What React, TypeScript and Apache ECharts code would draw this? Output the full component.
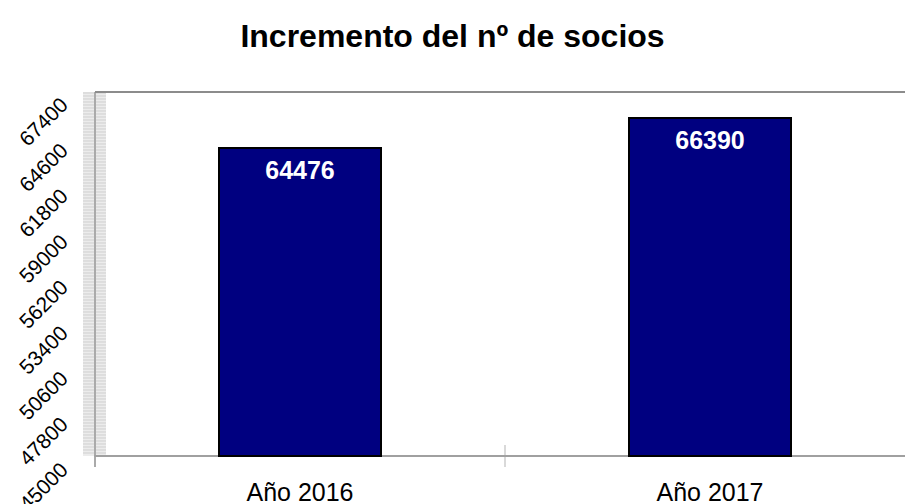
import React, { useEffect, useRef } from "react";
import * as echarts from "echarts";

const categories = ["Año 2016", "Año 2017"];
const socios = [64476, 66390];
const tickMin = 45000;
const tickMax = 67400;
const tickStep = 2800;

export default function App() {
  const ref = useRef<HTMLDivElement>(null);
  useEffect(() => {
    if (!ref.current) return;
    const chart = echarts.init(ref.current, null, { renderer: "svg" });
    const wallTop = 92;
    const wallBottom = 456;
    const stripes: any[] = [];
    for (let y = wallTop + 1; y < wallBottom; y += 3) {
      stripes.push({
        type: "line",
        silent: true,
        shape: { x1: 83, y1: y, x2: 106, y2: y },
        style: { stroke: "#cfcfcf", lineWidth: 1 },
      });
    }
    chart.setOption({
      animation: false,
      backgroundColor: "#ffffff",
      title: {
        text: "Incremento del nº de socios",
        left: "center",
        top: 15,
        textStyle: {
          fontFamily: "Liberation Sans",
          fontWeight: "bold",
          fontSize: 32,
          color: "#000000",
        },
      },
      graphic: [
        {
          type: "rect",
          silent: true,
          z: 0,
          shape: { x: 83, y: wallTop, width: 23, height: wallBottom - wallTop },
          style: { fill: "#ececec" },
        },
        ...stripes,
        {
          type: "line",
          silent: true,
          shape: { x1: 95, y1: wallTop, x2: 95, y2: 467 },
          style: { stroke: "#aaaaaa", lineWidth: 2 },
        },
        {
          type: "line",
          silent: true,
          shape: { x1: 95, y1: wallTop, x2: 905, y2: wallTop },
          style: { stroke: "#8c8c8c", lineWidth: 2 },
        },
        {
          type: "line",
          silent: true,
          shape: { x1: 505, y1: 445, x2: 505, y2: 467 },
          style: { stroke: "#cccccc", lineWidth: 1.5 },
        },
      ],
      grid: [
        {
          left: 95,
          width: 820,
          top: 92,
          bottom: 48,
          containLabel: false,
          outerBoundsMode: "none",
        },
        {
          left: 70,
          width: 1,
          top: 101,
          bottom: 38,
          containLabel: false,
          outerBoundsMode: "none",
        },
      ],
      xAxis: [
        {
          type: "category",
          gridIndex: 0,
          data: categories,
          axisLine: { lineStyle: { color: "#a0a0a0", width: 2 } },
          axisTick: { show: false },
          axisLabel: {
            margin: 23,
            fontFamily: "Liberation Sans",
            fontSize: 25,
            color: "#000000",
          },
        },
        {
          type: "category",
          gridIndex: 1,
          data: ["x"],
          show: false,
        },
      ],
      yAxis: [
        {
          type: "value",
          gridIndex: 0,
          min: 44760,
          max: 67990,
          show: false,
          splitLine: { show: false },
        },
        {
          type: "value",
          gridIndex: 1,
          min: tickMin,
          max: tickMax,
          interval: tickStep,
          axisLine: { show: false },
          axisTick: { show: false },
          splitLine: { show: false },
          axisLabel: {
            rotate: 45,
            margin: 6,
            fontFamily: "Liberation Sans",
            fontSize: 21,
            color: "#000000",
            showMinLabel: true,
            showMaxLabel: true,
            formatter: (v: number) => String(v),
          },
        },
      ],
      series: [
        {
          type: "bar",
          xAxisIndex: 0,
          yAxisIndex: 0,
          data: socios,
          barWidth: 164,
          itemStyle: { color: "#000080", borderColor: "#000000", borderWidth: 2 },
          label: {
            show: true,
            position: "insideTop",
            distance: 10,
            fontFamily: "Liberation Sans",
            fontWeight: "bold",
            fontSize: 25,
            color: "#ffffff",
          },
        },
      ],
    });
    return () => chart.dispose();
  }, []);
  return (
    <div
      ref={ref}
      style={{ position: "fixed", left: 0, top: 0, width: 905, height: 504 }}
    />
  );
}
